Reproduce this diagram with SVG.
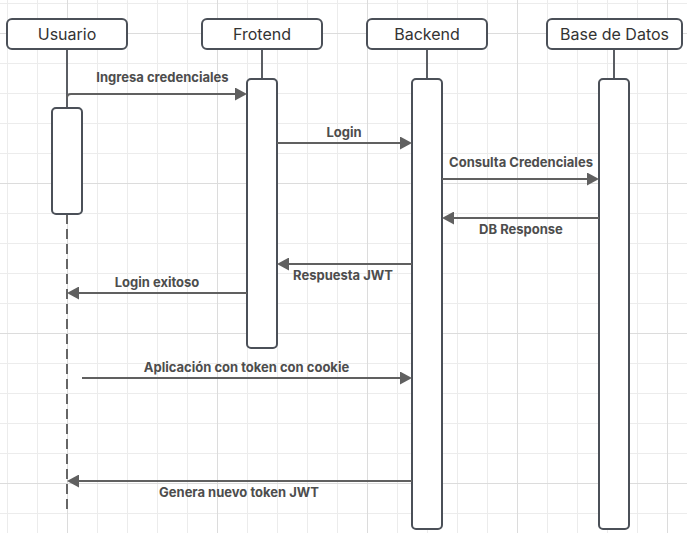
<svg xmlns="http://www.w3.org/2000/svg" width="687" height="533" viewBox="0 0 687 533">
  <style>
    .hdr { fill: #ffffff; stroke: #4b5058; stroke-width: 2; }
    .act { fill: #ffffff; stroke: #4b5058; stroke-width: 2; }
    .life { stroke: #5a5d63; stroke-width: 2; fill: none; }
    .dash { stroke: #666666; stroke-width: 2; stroke-dasharray: 10 5; fill: none; }
    .msg { stroke: #606060; stroke-width: 2; fill: none; marker-end: url(#ah); }
    .ht { font-family: Inter, "Liberation Sans", sans-serif; font-size: 16px; fill: #333333; text-anchor: middle; }
    .lt { font-family: Inter, "Liberation Sans", sans-serif; font-size: 13px; font-weight: 700; fill: #4d4d4d; text-anchor: middle; }
  </style>
  <defs>
    <pattern id="gmin" patternUnits="userSpaceOnUse" x="7" y="3" width="30" height="30">
      <path d="M0.5 0 V30 M0 0.5 H30" stroke="#ececec" stroke-width="1" fill="none"/>
    </pattern>
    <pattern id="gmaj" patternUnits="userSpaceOnUse" x="67" y="33" width="150" height="150">
      <path d="M0.5 0 V150 M0 0.5 H150" stroke="#dcdcdc" stroke-width="1" fill="none"/>
    </pattern>
    <marker id="ah" markerUnits="userSpaceOnUse" markerWidth="12" markerHeight="13" refX="2" refY="6.5" orient="auto">
      <path d="M0 0 L12 6.5 L0 13 Z" fill="#606060"/>
    </marker>
  </defs>
  <rect width="687" height="533" fill="#ffffff"/>
  <rect width="687" height="533" fill="url(#gmin)"/>
  <rect width="687" height="533" fill="url(#gmaj)"/>

  <g id="lifelines">
    <path class="life" d="M67 49 V108"/>
    <path class="dash" d="M67 214 V514"/>
    <path class="life" d="M262 49 V79"/>
    <path class="life" d="M427 49 V79"/>
    <path class="life" d="M614 49 V79"/>
  </g>

  <g id="usuario">
    <rect class="hdr" x="7" y="19" width="120" height="30" rx="5"/>
    <text class="ht" x="67" y="40">Usuario</text>
    <rect class="act" x="52" y="108" width="30" height="106" rx="4"/>
  </g>
  <g id="frotend">
    <rect class="hdr" x="202" y="19" width="120" height="30" rx="5"/>
    <text class="ht" x="262" y="40">Frotend</text>
    <rect class="act" x="247" y="79" width="30" height="269" rx="4"/>
  </g>
  <g id="backend">
    <rect class="hdr" x="367" y="19" width="120" height="30" rx="5"/>
    <text class="ht" x="427" y="40">Backend</text>
    <rect class="act" x="412" y="79" width="30" height="450" rx="4"/>
  </g>
  <g id="basededatos">
    <rect class="hdr" x="547" y="19" width="135" height="30" rx="5"/>
    <text class="ht" x="614.5" y="40">Base de Datos</text>
    <rect class="act" x="599" y="79" width="30" height="450" rx="4"/>
  </g>

  <g id="connectors">
    <path class="msg" d="M67 98 Q67 94 71 94 H237"/>
    <text class="lt" x="162.5" y="82">Ingresa credenciales</text>

    <path class="msg" d="M277 143 H402"/>
    <text class="lt" x="344" y="137">Login</text>

    <path class="msg" d="M442 179 H589"/>
    <text class="lt" x="521" y="167">Consulta Credenciales</text>

    <path class="msg" d="M599 218 H452"/>
    <text class="lt" x="521" y="234">DB Response</text>

    <path class="msg" d="M412 264 H287"/>
    <text class="lt" x="343" y="280">Respuesta JWT</text>

    <path class="msg" d="M247 293 H77"/>
    <text class="lt" x="157" y="287">Login exitoso</text>

    <path class="msg" d="M82 378 H402"/>
    <text class="lt" x="246.5" y="372">Aplicación con token con cookie</text>

    <path class="msg" d="M412 481 H77"/>
    <text class="lt" x="239" y="497">Genera nuevo token JWT</text>
  </g>
</svg>
